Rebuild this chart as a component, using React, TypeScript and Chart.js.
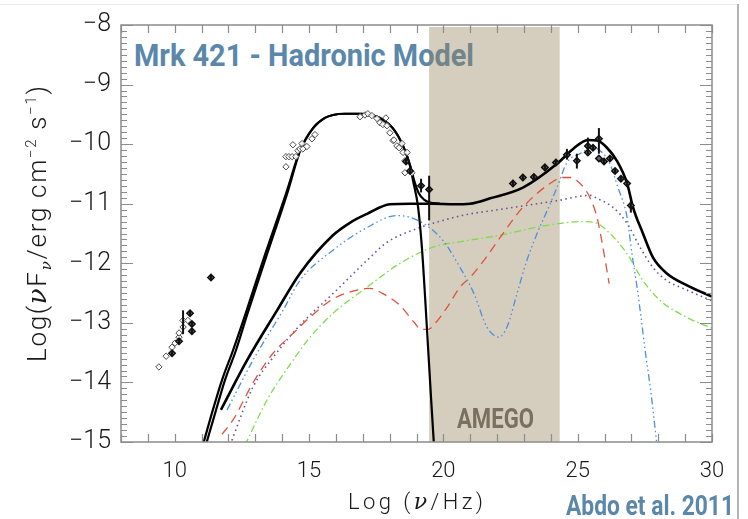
import React, { useEffect, useRef } from 'react';
import { Chart, registerables } from 'chart.js';

Chart.register(...registerables);

// Axis ranges and ticks
const X_MIN = 8;
const X_MAX = 30;
const Y_MIN = -15;
const Y_MAX = -8;
const X_TICKS = [10, 15, 20, 25, 30];
const Y_TICKS = [-15, -14, -13, -12, -11, -10, -9, -8];

// AMEGO sensitivity band, log(nu/Hz)
const AMEGO_BAND = [19.47, 24.33];

// Electron synchrotron component
const synX = [11.05, 11.42, 11.76, 12.17, 12.62, 13.29, 14.18, 14.66, 15.15, 15.59, 15.89, 16.34, 16.9, 17.34, 17.64, 18.13, 18.5, 18.76, 18.87, 19.06, 19.2, 19.32, 19.43, 19.54, 19.65];
const synY = [-15.05, -14.46, -13.96, -13.46, -12.87, -11.95, -10.78, -10.11, -9.73, -9.56, -9.51, -9.49, -9.49, -9.51, -9.56, -9.74, -10.03, -10.36, -10.61, -11.06, -11.73, -12.57, -13.41, -14.25, -15.05];

// Total model on the synchrotron side
const totalX = [11.16, 11.54, 11.87, 12.28, 12.69, 13.36, 14.22, 14.66, 15.15, 15.59, 15.89, 16.34, 16.9, 17.34, 17.64, 18.13, 18.5, 18.76, 18.94, 19.09, 19.28, 19.5, 19.87];
const totalY = [-15.05, -14.46, -13.96, -13.46, -12.87, -11.95, -10.78, -10.12, -9.73, -9.56, -9.51, -9.49, -9.49, -9.51, -9.56, -9.74, -10.03, -10.36, -10.65, -10.83, -10.93, -10.98, -11.0];

// Sum of hadronic components
const hadronX = [11.72, 12.69, 13.81, 14.66, 15.89, 16.52, 17.16, 18.01, 18.76, 19.61, 20.4, 20.99, 21.74, 22.96, 24.23, 24.83, 25.38, 25.72, 26.09, 26.46, 26.84, 27.06, 27.43, 27.8, 28.32, 29.07, 30.0];
const hadronY = [-14.46, -13.63, -12.79, -12.17, -11.53, -11.32, -11.17, -11.01, -11.0, -11.0, -11.01, -11.0, -10.91, -10.73, -10.33, -10.08, -9.93, -9.94, -10.06, -10.28, -10.66, -11.06, -11.5, -11.9, -12.17, -12.37, -12.56];

// Proton synchrotron
const protonX = [11.95, 12.91, 14.03, 14.66, 15.89, 17.16, 18.27, 18.76, 19.39, 19.99, 20.62, 21.14, 21.62, 22.07, 22.37, 22.74, 23.11, 23.49, 23.86, 24.23, 24.6, 25.09, 25.57, 25.91, 26.2, 26.5, 26.84, 27.02, 27.21, 27.36, 27.51, 27.73, 27.95];
const protonY = [-14.46, -13.63, -12.79, -12.29, -11.78, -11.4, -11.2, -11.23, -11.37, -11.62, -12.07, -12.51, -13.07, -13.24, -13.07, -12.51, -11.95, -11.5, -11.12, -10.73, -10.31, -10.16, -10.06, -10.14, -10.33, -10.73, -11.23, -11.84, -12.4, -12.91, -13.46, -14.18, -15.05];

// Muon synchrotron
const muonX = [11.76, 12.17, 12.91, 13.66, 14.4, 15.0, 15.89, 16.79, 17.27, 17.75, 18.39, 18.91, 19.17, 19.43, 19.73, 20.14, 20.62, 20.99, 21.51, 22.11, 22.96, 23.97, 24.45, 24.71, 25.09, 25.46, 25.72, 25.94, 26.17];
const muonY = [-14.87, -14.63, -14.01, -13.51, -13.18, -12.92, -12.6, -12.45, -12.42, -12.51, -12.71, -12.99, -13.11, -13.11, -12.99, -12.74, -12.4, -12.24, -11.95, -11.57, -11.06, -10.66, -10.56, -10.56, -10.66, -10.9, -11.23, -11.73, -12.34];

// pi0 cascade
const pi0X = [12.06, 12.91, 13.66, 14.66, 15.89, 17.16, 17.9, 19.13, 19.99, 20.88, 21.74, 24.23, 25.46, 25.72, 26.31, 26.84, 27.32, 27.8, 28.32, 29.07, 30.0];
const pi0Y = [-15.05, -14.08, -13.58, -13.04, -12.51, -11.95, -11.65, -11.4, -11.28, -11.18, -11.12, -10.95, -10.86, -10.91, -11.06, -11.33, -11.73, -12.07, -12.29, -12.45, -12.63];

// pi+- cascade
const piPmX = [12.62, 13.43, 14.4, 15.04, 15.89, 17.16, 18.39, 19.61, 20.88, 22.22, 23.63, 25.2, 25.72, 26.2, 26.84, 27.43, 28.06, 29.07, 30.0];
const piPmY = [-15.05, -14.3, -13.63, -13.24, -12.84, -12.4, -12.0, -11.73, -11.62, -11.52, -11.38, -11.3, -11.33, -11.5, -11.84, -12.29, -12.62, -12.91, -13.09];

// Open-diamond observations
const openX = [9.41, 9.68, 9.9, 10.01, 10.16, 10.16, 10.31, 10.31, 10.49,
  14.14, 14.14, 14.25, 14.37, 14.51, 14.4, 14.59, 14.66, 14.74, 14.77, 14.92, 15.11, 15.22,
  16.9, 17.08, 17.19, 17.34, 17.53, 17.64, 17.75, 17.86, 17.9, 18.01, 18.13, 18.16, 18.27, 18.35, 18.46, 18.5, 18.57, 18.65, 18.57, 18.83];
const openY = [-13.74, -13.56, -13.41, -13.34, -13.24, -13.17, -13.07, -12.96, -12.96,
  -10.38, -10.21, -10.21, -10.21, -10.21, -10.01, -10.11, -10.08, -9.99, -10.08, -10.04, -9.91, -9.84,
  -9.54, -9.51, -9.49, -9.52, -9.57, -9.64, -9.67, -9.56, -9.69, -9.81, -9.94, -9.93, -10.03, -10.06, -9.99, -10.14, -10.28, -10.14, -10.48, -10.48];

// Filled-diamond observations
const fillX = [9.9, 10.16, 10.57, 10.64, 10.64, 11.35,
  18.61, 18.76, 19.17, 19.47,
  22.59, 22.96, 23.37, 23.78, 24.19, 24.6, 24.97, 25.38, 25.38, 25.57, 25.79, 25.79, 25.98, 26.2, 26.39, 26.61, 26.84, 26.98];
const fillY = [-13.51, -13.31, -12.84, -13.02, -13.14, -12.24,
  -10.29, -10.45, -10.7, -10.76,
  -10.66, -10.56, -10.55, -10.39, -10.31, -10.18, -10.28, -10.03, -10.14, -10.06, -9.91, -10.24, -10.29, -10.24, -10.45, -10.58, -10.66, -11.03];

// Vertical error bars: position, lower and upper bound
const errX = [10.31, 9.9, 10.16, 10.57, 10.64, 10.64, 11.35,
  18.61, 18.76, 19.17, 19.47,
  22.59, 22.96, 23.37, 23.78, 24.19, 24.6, 24.97, 25.38, 25.57, 25.79, 25.98, 26.2, 26.39, 26.61, 26.84, 26.98];
const errLo = [-13.19, -13.56, -13.36, -12.89, -13.07, -13.19, -12.29,
  -10.34, -10.5, -10.81, -11.28,
  -10.72, -10.62, -10.6, -10.44, -10.36, -10.26, -10.41, -10.19, -10.11, -10.16, -10.34, -10.29, -10.5, -10.63, -10.71, -11.15];
const errHi = [-12.79, -13.46, -13.26, -12.79, -12.97, -13.09, -12.19,
  -10.24, -10.4, -10.58, -10.53,
  -10.6, -10.5, -10.5, -10.34, -10.26, -10.08, -10.16, -9.89, -10.01, -9.73, -10.24, -10.19, -10.4, -10.53, -10.61, -10.95];

const pts = (xs: number[], ys: number[]) => xs.map((x, i) => ({ x, y: ys[i] }));

const AXIS_COLOR = '#8c8c8c';

const bandPlugin = {
  id: 'amegoBand',
  beforeDatasetsDraw(chart: any) {
    const { ctx, chartArea, scales } = chart;
    const x0 = scales.x.getPixelForValue(AMEGO_BAND[0]);
    const x1 = scales.x.getPixelForValue(AMEGO_BAND[1]);
    ctx.save();
    ctx.fillStyle = 'rgba(150,130,90,0.4)';
    ctx.fillRect(x0, chartArea.top + 2, x1 - x0, chartArea.bottom - chartArea.top - 2);
    ctx.restore();
  },
};

const errorBarPlugin = {
  id: 'errorBars',
  afterDatasetsDraw(chart: any) {
    const { ctx, scales } = chart;
    ctx.save();
    ctx.strokeStyle = '#111';
    ctx.lineWidth = 2;
    errX.forEach((x, i) => {
      const px = scales.x.getPixelForValue(x);
      ctx.beginPath();
      ctx.moveTo(px, scales.y.getPixelForValue(errLo[i]));
      ctx.lineTo(px, scales.y.getPixelForValue(errHi[i]));
      ctx.stroke();
    });
    ctx.restore();
  },
};

// Box around the plot with inward-pointing ticks on all four sides
const framePlugin = {
  id: 'frameTicks',
  afterDatasetsDraw(chart: any) {
    const { ctx, chartArea, scales } = chart;
    const { left, right, top, bottom } = chartArea;
    ctx.save();
    ctx.strokeStyle = AXIS_COLOR;
    ctx.lineWidth = 1.5;
    ctx.strokeRect(left, top, right - left, bottom - top);
    ctx.lineWidth = 1.2;
    ctx.beginPath();
    for (let v = X_MIN; v <= X_MAX; v += 1) {
      const px = Math.round(scales.x.getPixelForValue(v)) + 0.5;
      ctx.moveTo(px, bottom);
      ctx.lineTo(px, bottom - 8);
      ctx.moveTo(px, top);
      ctx.lineTo(px, top + 8);
    }
    for (let i = 0; i <= (Y_MAX - Y_MIN) * 10; i++) {
      const v = Y_MIN + i / 10;
      const py = Math.round(scales.y.getPixelForValue(v)) + 0.5;
      const len = i % 10 === 0 ? 12 : 6;
      ctx.moveTo(left, py);
      ctx.lineTo(left + len, py);
      ctx.moveTo(right, py);
      ctx.lineTo(right - len, py);
    }
    ctx.stroke();
    ctx.restore();
  },
};

const lineSet = (label: string, xs: number[], ys: number[], color: string, width: number, dash: number[], order: number) => ({
  label,
  data: pts(xs, ys),
  showLine: true,
  borderColor: color,
  borderWidth: width,
  borderDash: dash,
  pointRadius: 0,
  cubicInterpolationMode: 'monotone' as const,
  fill: false,
  order,
});

export default function App() {
  const canvasRef = useRef<HTMLCanvasElement | null>(null);

  useEffect(() => {
    const canvas = canvasRef.current;
    if (!canvas) return;
    const chart = new Chart(canvas, {
      type: 'scatter',
      data: {
        datasets: [
          {
            label: 'filled',
            data: pts(fillX, fillY),
            pointStyle: 'rectRot',
            pointRadius: 3.2,
            pointBorderWidth: 1.5,
            pointBorderColor: '#111',
            pointBackgroundColor: '#666',
            showLine: false,
            order: 0,
          },
          {
            label: 'open',
            data: pts(openX, openY),
            pointStyle: 'rectRot',
            pointRadius: 3.2,
            pointBorderWidth: 1,
            pointBorderColor: '#4a4a4a',
            pointBackgroundColor: 'rgba(255,255,255,0.9)',
            showLine: false,
            order: 0,
          },
          lineSet('synchrotron', synX, synY, '#000', 2.2, [], 1),
          lineSet('total', totalX, totalY, '#000', 2.2, [], 1),
          lineSet('hadronic', hadronX, hadronY, '#000', 2.6, [], 1),
          lineSet('proton synchrotron', protonX, protonY, '#4d8fe0', 1.3, [7, 3, 1.5, 3, 1.5, 3, 1.5, 3], 2),
          lineSet('muon synchrotron', muonX, muonY, '#e2513c', 1.3, [9, 6], 2),
          lineSet('pi0 cascade', pi0X, pi0Y, '#6a4f9e', 1.6, [1.5, 3.5], 2),
          lineSet('pi+- cascade', piPmX, piPmY, '#7edc4c', 1.3, [7, 3, 1.5, 3], 2),
        ],
      },
      options: {
        responsive: false,
        animation: false,
        layout: { padding: { left: 0, right: 36, top: 24, bottom: 0 } },
        plugins: { legend: { display: false }, tooltip: { enabled: false } },
        scales: {
          x: {
            type: 'linear',
            min: X_MIN,
            max: X_MAX,
            afterBuildTicks: (s: any) => { s.ticks = X_TICKS.map((v) => ({ value: v })); },
            afterFit: (s: any) => { s.height = 77; },
            grid: { display: false, drawTicks: false },
            border: { display: false },
            ticks: {
              autoSkip: false,
              maxRotation: 0,
              padding: 16,
              color: '#1a1a1a',
              font: { family: 'Roboto', size: 22, weight: '300' },
            },
          },
          y: {
            type: 'linear',
            min: Y_MIN,
            max: Y_MAX,
            afterBuildTicks: (s: any) => { s.ticks = Y_TICKS.map((v) => ({ value: v })); },
            afterFit: (s: any) => { s.width = 121; },
            grid: { display: false, drawTicks: false },
            border: { display: false },
            ticks: {
              padding: 10,
              color: '#1a1a1a',
              font: { family: 'Roboto', size: 25, weight: '300' },
              callback: (v: any) => (v < 0 ? '\u2212' + Math.abs(v) : String(v)),
            },
          },
        },
      },
      plugins: [bandPlugin, errorBarPlugin, framePlugin],
    });
    return () => chart.destroy();
  }, []);

  return (
    <div style={{ position: 'fixed', left: 0, top: 0, width: 748, height: 519, background: '#fff', overflow: 'hidden' }}>
      <svg width={748} height={519} style={{ position: 'absolute', left: 0, top: 0, zIndex: 0 }}>
        <text x={134} y={65.5} fontFamily="Roboto" fontWeight={700} fontSize={31} fill="#5a87aa" textLength={340} lengthAdjust="spacingAndGlyphs">
          Mrk 421 - Hadronic Model
        </text>
      </svg>
      <canvas ref={canvasRef} width={748} height={519} style={{ position: 'absolute', left: 0, top: 0, zIndex: 1 }} />
      <svg width={748} height={519} style={{ position: 'absolute', left: 0, top: 0, zIndex: 2 }}>
        <line x1={0} y1={4.5} x2={738} y2={4.5} stroke="#ececec" strokeWidth={1} />
        <line x1={738} y1={4} x2={738} y2={519} stroke="#9a9a9a" strokeWidth={1.5} />
        <text x={457} y={428} fontFamily="Roboto" fontWeight={700} fontSize={28} fill="#7a7060" textLength={77} lengthAdjust="spacingAndGlyphs">
          AMEGO
        </text>
        <text x={566} y={515} fontFamily="Roboto" fontWeight={700} fontSize={28} fill="#5a87aa" textLength={168} lengthAdjust="spacingAndGlyphs">
          Abdo et al. 2011
        </text>
        <text x={348} y={509} fontFamily="Roboto" fontWeight={300} fontSize={22} fill="#1a1a1a" textLength={135} lengthAdjust="spacing">
          Log (<tspan fontFamily="DejaVu Serif" fontStyle="italic">ν</tspan>/Hz)
        </text>
        <text transform="translate(46,362) rotate(-90)" fontFamily="Roboto" fontWeight={300} fontSize={26} fill="#1a1a1a" textLength={276} lengthAdjust="spacing">
          Log(<tspan fontFamily="DejaVu Serif" fontStyle="italic">ν</tspan>F<tspan fontFamily="DejaVu Serif" fontStyle="italic" fontSize={15} dy={5}>ν</tspan><tspan dy={-5}>/erg cm</tspan><tspan fontSize={15} dy={-10}>−2</tspan><tspan dy={10}> s</tspan><tspan fontSize={15} dy={-10}>−1</tspan><tspan dy={10}>)</tspan>
        </text>
      </svg>
    </div>
  );
}
